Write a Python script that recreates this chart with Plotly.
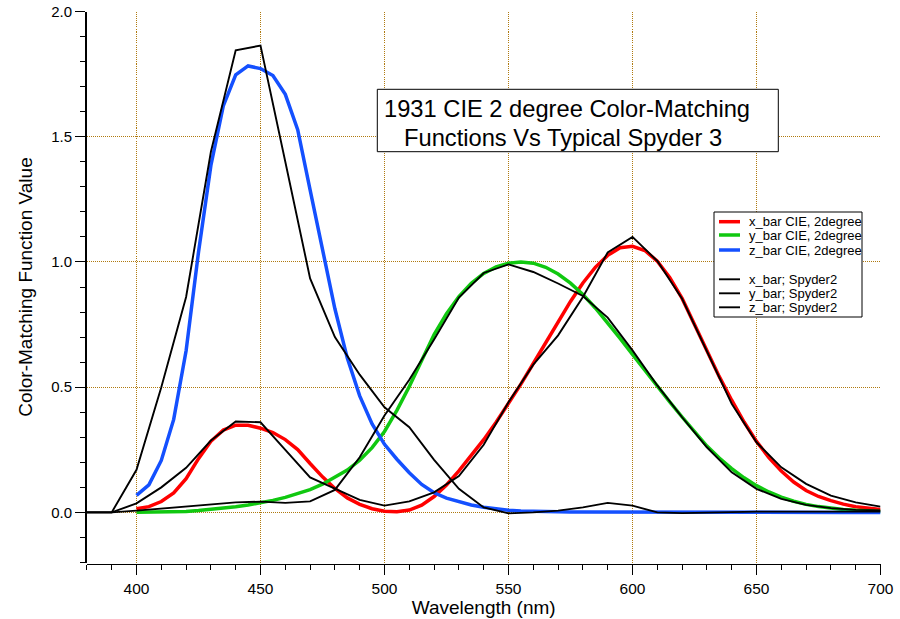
import plotly.graph_objects as go

# CIE 1931 2-degree colour-matching functions (5 nm steps)
wl_cie = list(range(400, 705, 5))
x_cie = [0.01431, 0.02319, 0.04351, 0.07763, 0.13438, 0.21477, 0.2839, 0.3285, 0.34828, 0.34806,
         0.3362, 0.3187, 0.2908, 0.2511, 0.19536, 0.1421, 0.09564, 0.05795, 0.03201, 0.0147,
         0.0049, 0.0024, 0.0093, 0.0291, 0.06327, 0.1096, 0.1655, 0.22575, 0.2904, 0.3597,
         0.43345, 0.51205, 0.5945, 0.6784, 0.7621, 0.8425, 0.9163, 0.9786, 1.0263, 1.0567,
         1.0622, 1.0456, 1.0026, 0.9384, 0.85445, 0.7514, 0.6424, 0.5419, 0.4479, 0.3608,
         0.2835, 0.2187, 0.1649, 0.1212, 0.0874, 0.0636, 0.04677, 0.0329, 0.0227, 0.01584,
         0.011359]
y_cie = [0.000396, 0.00064, 0.00121, 0.00218, 0.004, 0.0073, 0.0116, 0.01684, 0.023, 0.0298,
         0.038, 0.048, 0.06, 0.0739, 0.09098, 0.1126, 0.13902, 0.1693, 0.20802, 0.2586,
         0.323, 0.4073, 0.503, 0.6082, 0.71, 0.7932, 0.862, 0.91485, 0.954, 0.9803,
         0.99495, 1.0, 0.995, 0.9786, 0.952, 0.9154, 0.87, 0.8163, 0.757, 0.6949,
         0.631, 0.5668, 0.503, 0.4412, 0.381, 0.321, 0.265, 0.217, 0.175, 0.1382,
         0.107, 0.0816, 0.061, 0.04458, 0.032, 0.0232, 0.017, 0.01192, 0.00821, 0.005723,
         0.004102]
z_cie = [0.06785, 0.1102, 0.2074, 0.3713, 0.6456, 1.03905, 1.3856, 1.62296, 1.74706, 1.7826,
         1.77211, 1.7441, 1.6692, 1.5281, 1.28764, 1.0419, 0.81295, 0.6162, 0.46518, 0.3533,
         0.272, 0.2123, 0.1582, 0.1117, 0.07825, 0.05725, 0.04216, 0.02984, 0.0203, 0.0134,
         0.00875, 0.00575, 0.0039, 0.00275, 0.0021, 0.0018, 0.00165, 0.0014, 0.0011, 0.001,
         0.0008, 0.0006, 0.00034, 0.00024, 0.00019, 0.0001, 0.00005, 0.00003, 0.00002, 0.00001,
         0, 0, 0, 0, 0, 0, 0, 0, 0, 0, 0]

# Typical Spyder 3 (10 nm steps)
wl_spy = list(range(380, 710, 10))
x_spy = [0, 0, 0.036, 0.10, 0.178, 0.287, 0.363, 0.36, 0.25, 0.14, 0.095, 0.05, 0.027, 0.044,
         0.08, 0.145, 0.27, 0.44, 0.59, 0.707, 0.86, 1.038, 1.10, 1.004, 0.853, 0.64, 0.434,
         0.28, 0.18, 0.114, 0.067, 0.04, 0.023]
y_spy = [0, 0, 0.007, 0.015, 0.025, 0.033, 0.04, 0.043, 0.038, 0.044, 0.09, 0.22, 0.387, 0.53,
         0.69, 0.858, 0.956, 0.99, 0.96, 0.914, 0.864, 0.778, 0.647, 0.507, 0.38, 0.26, 0.16,
         0.094, 0.054, 0.03, 0.017, 0.01, 0.008]
z_spy = [0, 0, 0.17, 0.50, 0.86, 1.44, 1.845, 1.864, 1.40, 0.934, 0.70, 0.55, 0.42, 0.34,
         0.21, 0.094, 0.02, -0.004, 0.0, 0.007, 0.02, 0.038, 0.027, 0.0, -0.003, 0.0, 0.003,
         0.003, 0.003, 0.003, 0.003, 0.003, 0.003]

cie_names = ["x_bar CIE, 2degree", "y_bar CIE, 2degree", "z_bar CIE, 2degree"]
spy_names = ["x_bar; Spyder2", "y_bar; Spyder2", "z_bar; Spyder2"]
cie_colors = ["#FF0000", "#10C810", "#1450FF"]
title_lines = ["1931 CIE 2 degree Color-Matching", "Functions Vs Typical Spyder 3"]

FONT = "Liberation Sans, Arial, sans-serif"
GRID = "#B07A10"
GRID_DASH = "1px,1px"
CIE_W = 3.5
SPY_W = 1.9

# layout geometry (pixels)
W, H = 900, 619
ML, MR, MT, MB = 86, 19, 11, 55
PW, PH = W - ML - MR, H - MT - MB
X_DOM = [0.9 / PW, 794.5 / PW]
Y_DOM = [1 - 551.5 / PH, 1 - 0.5 / PH]


def px(xp):
    return (xp - ML) / PW


def py(yp):
    return (H - MB - yp) / PH


fig = go.Figure()
for name, ys, col in zip(cie_names, [x_cie, y_cie, z_cie], cie_colors):
    fig.add_trace(go.Scatter(x=wl_cie, y=ys, mode="lines", name=name, showlegend=False,
                             line=dict(color=col, width=CIE_W)))
for name, ys in zip(spy_names, [x_spy, y_spy, z_spy]):
    fig.add_trace(go.Scatter(x=wl_spy, y=ys, mode="lines", name=name, showlegend=False,
                             line=dict(color="black", width=SPY_W)))

fig.update_layout(
    width=W, height=H,
    margin=dict(l=ML, r=MR, t=MT, b=MB),
    paper_bgcolor="white", plot_bgcolor="white",
    font=dict(family=FONT, color="black", size=15),
    showlegend=False,
    xaxis=dict(range=[380, 700], dtick=50, tick0=0, domain=X_DOM,
               showgrid=True, gridcolor=GRID,
               griddash=GRID_DASH, gridwidth=1, zeroline=False, automargin=False,
               showline=True, linecolor="black", linewidth=1,
               ticks="outside", ticklen=10, tickcolor="black", tickwidth=1,
               minor=dict(dtick=10, ticks="outside", ticklen=5, tickcolor="black", showgrid=False),
               anchor="free", position=0,
               tickfont=dict(size=15.5),
               title=dict(text="Wavelength (nm)", font=dict(size=19), standoff=2)),
    yaxis=dict(range=[-0.2, 2.0], dtick=0.5, tick0=0, tickformat=".1f",
               domain=Y_DOM, automargin=False,
               showgrid=True, gridcolor=GRID, griddash=GRID_DASH, gridwidth=1, zeroline=False,
               showline=True, linecolor="black", linewidth=1.5,
               ticks="outside", ticklen=10, tickcolor="black", tickwidth=1,
               minor=dict(dtick=0.1, ticks="outside", ticklen=5, tickcolor="black", showgrid=False),
               tickfont=dict(size=15),
               title=dict(text="Color-Matching Function Value", font=dict(size=19), standoff=14)),
)

# Title box
fig.add_shape(type="rect", xref="paper", yref="paper", x0=px(377.3), x1=px(778.3),
              y0=py(151.7), y1=py(89.3),
              line=dict(color="black", width=1), fillcolor="white", layer="above")
fig.add_annotation(xref="paper", yref="paper", x=px(381.8), y=py(108.7), xanchor="left",
                   yanchor="middle", text=title_lines[0], showarrow=False,
                   font=dict(size=23.7, family=FONT, color="black"))
fig.add_annotation(xref="paper", yref="paper", x=px(401.6), y=py(137.5), xanchor="left",
                   yanchor="middle", text=title_lines[1], showarrow=False,
                   font=dict(size=23.7, family=FONT, color="black"))

# Legend box (drawn to match the compact original legend)
fig.add_shape(type="rect", xref="paper", yref="paper", x0=px(714), x1=px(862),
              y0=py(317), y1=py(212),
              line=dict(color="black", width=1), fillcolor="white", layer="above")
leg_y = [221.7, 235.0, 250.0, 279.3, 293.3, 307.3]
leg_names = cie_names + spy_names
leg_colors = cie_colors + ["black"] * 3
leg_widths = [CIE_W] * 3 + [SPY_W] * 3
for yy, nm, col, w in zip(leg_y, leg_names, leg_colors, leg_widths):
    fig.add_shape(type="line", xref="paper", yref="paper", x0=px(719), x1=px(740),
                  y0=py(yy), y1=py(yy), line=dict(color=col, width=w), layer="above")
    fig.add_annotation(xref="paper", yref="paper", x=px(747.2), y=py(yy), xanchor="left",
                       yanchor="middle", text=nm, showarrow=False,
                       font=dict(size=13, family=FONT, color="black"))

fig.write_html("out.html", config={"displayModeBar": False},
               post_script="document.body.style.margin='0';")
